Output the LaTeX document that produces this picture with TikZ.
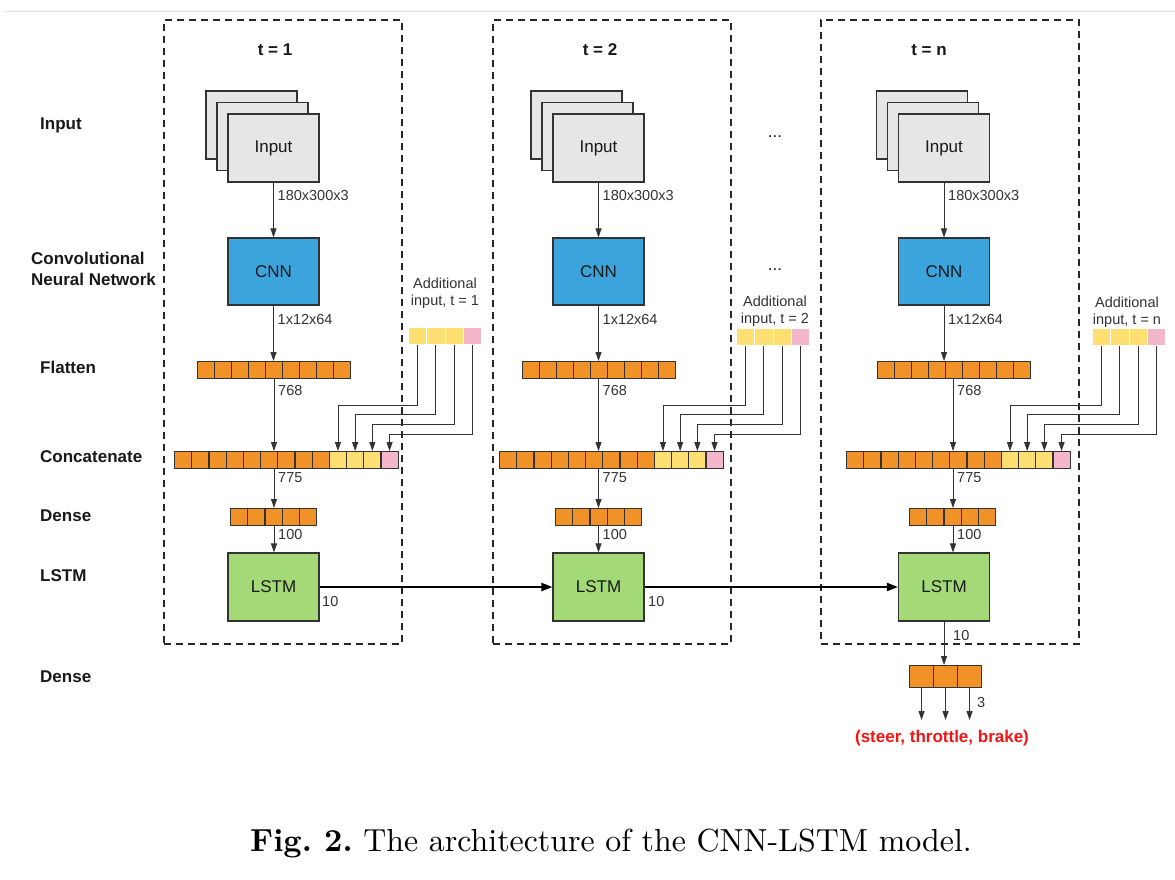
\documentclass[tikz,border=0pt]{standalone}
\usepackage{fontspec}
\setsansfont{Liberation Sans}
\usetikzlibrary{arrows.meta}
\definecolor{cnnblue}{RGB}{59,164,221}
\definecolor{lstmgreen}{RGB}{163,217,119}
\definecolor{orng}{RGB}{240,146,40}
\definecolor{ylw}{RGB}{255,222,114}
\definecolor{pnk}{RGB}{244,182,202}
\definecolor{inpgray}{RGB}{230,230,230}
\definecolor{edge}{RGB}{51,51,51}
\definecolor{redtxt}{RGB}{245,20,20}
\begin{document}
\begin{tikzpicture}[x=1pt,y=-1pt,
  lab/.style={font=\sffamily\bfseries\fontsize{17}{20.5}\selectfont, anchor=west, inner sep=0pt, text=black!90},
  small/.style={font=\sffamily\fontsize{14.5}{17.5}\selectfont, anchor=west, inner sep=0pt, text=edge},
  boxtxt/.style={font=\sffamily\fontsize{17}{20}\selectfont, text=black!90},
  inbox/.style={draw=edge, fill=inpgray, line width=1.1pt, minimum width=91pt, minimum height=68pt, inner sep=0pt, boxtxt},
  cnnbox/.style={draw=edge, fill=cnnblue, line width=1.1pt, minimum width=91pt, minimum height=67pt, inner sep=0pt, boxtxt},
  lstmbox/.style={draw=edge, fill=lstmgreen, line width=1.1pt, minimum width=91pt, minimum height=68pt, inner sep=0pt, boxtxt},
  rowbox/.style={draw=none, inner sep=0pt, anchor=north west},
  sq/.style={draw=edge, line width=1.1pt, inner sep=0pt, anchor=north west, minimum height=17pt},
  osq/.style={sq, fill=orng},
  ysq/.style={sq, fill=ylw},
  psq/.style={sq, fill=pnk},
  asq/.style={draw=white, line width=0.8pt, inner sep=0pt, anchor=north west, minimum width=18.25pt, minimum height=17pt},
  dashbox/.style={draw=black!85, line width=1.8pt, dash pattern=on 7pt off 5pt, inner sep=0pt, anchor=north west},
  arr/.style={draw=edge, line width=0.9pt, -{Triangle[length=9pt,width=6pt]}},
  bigarr/.style={draw=black, line width=1.8pt, -{Triangle[length=11pt,width=8pt]}}
]
\useasboundingbox (0,0) rectangle (1175,879);
\fill[white] (0,0) rectangle (1175,879);
\draw[black!12, line width=1pt] (5,11) -- (1175,11);

% row labels
\node[lab] (lInput) at (40,125) {Input};
\node[lab, align=left] (lCNN) at (31,269) {Convolutional\\Neural Network};
\node[lab] (lFlat) at (40,367) {Flatten};
\node[lab] (lConc) at (40,457) {Concatenate};
\node[lab] (lDense) at (40,516) {Dense};
\node[lab] (lLSTM) at (40,576) {LSTM};
\node[lab] (lDense2) at (40,677) {Dense};

% frames
\node[dashbox, minimum width=238pt, minimum height=624pt] (fr1) at (163,19) {};
\node[dashbox, minimum width=238pt, minimum height=624pt] (fr2) at (492,19) {};
\node[dashbox, minimum width=258pt, minimum height=624pt] (fr3) at (820,19) {};

\node[lab, anchor=center] (t1) at (275,50) {t = 1};
\node[lab, anchor=center] (t2) at (600,50) {t = 2};
\node[lab, anchor=center] (t3) at (929,50) {t = n};

\node[boxtxt] (dots1) at (775,137) {...};
\node[boxtxt] (dots2) at (775,270) {...};

\foreach \c/\tn/\cx/\px/\fx/\kx/\dx/\ax/\ay/\lx/\ly in
  {1/1/273.5/274/197/174/230/408/327/445/284,
   2/2/598.5/598.5/522/499/555/736/328/775/302,
   3/n/944/953/877/846/909/1092/328/1127/303}{
  \coordinate (p\c) at (\px,0);
  % input stack
  \node[inbox] (inA\c) at (\cx-22,125) {};
  \node[inbox] (inB\c) at (\cx-11,136.5) {};
  \node[inbox] (in\c) at (\cx,148) {Input};
  \node[cnnbox] (cnn\c) at (\cx,271.5) {CNN};
  \node[lstmbox] (lstm\c) at (\cx,587) {LSTM};
  % flatten
  \node[rowbox, minimum width=153pt, minimum height=17pt] (fl\c) at (\fx,361) {};
  \foreach \k in {1,...,9}
    \node[osq, minimum width=17pt] (fl\c-\k) at (\fx+17*\k-17,361) {};
  % concatenate
  \node[rowbox, minimum width=223.6pt, minimum height=17pt] (cc\c) at (\kx,451) {};
  \foreach \k in {1,...,9}
    \node[osq, minimum width=17.2pt] (cc\c-\k) at (\kx+17.2*\k-17.2,451) {};
  \foreach \k in {10,11,12}
    \node[ysq, minimum width=17.2pt] (cc\c-\k) at (\kx+17.2*\k-17.2,451) {};
  \node[psq, minimum width=17.2pt] (cc\c-13) at (\kx+17.2*12,451) {};
  % dense
  \node[rowbox, minimum width=86pt, minimum height=17pt] (de\c) at (\dx,508) {};
  \foreach \k in {1,...,5}
    \node[osq, minimum width=17.2pt] (de\c-\k) at (\dx+17.2*\k-17.2,508) {};
  % additional input
  \node[small, anchor=center, align=center] (al\c) at (\lx,\ly+9) {Additional\\input, t = \tn};
  \foreach \k in {1,2,3}
    \node[asq, fill=ylw] (ad\c-\k) at (\ax+18.25*\k-18.25,\ay) {};
  \node[asq, fill=pnk] (ad\c-4) at (\ax+18.25*3,\ay) {};
  \foreach \k/\yy in {1/405,2/414,3/424,4/434}{
    \pgfmathtruncatemacro\kk{\k+9}
    \draw[arr] (ad\c-\k.south) |- (cc\c-\kk.north |- 0,\yy) -- (cc\c-\kk.north);
  }
  % main path
  \draw[arr] (in\c.south) -- (cnn\c.north);
  \draw[arr] (cnn\c.south) -- (cnn\c.south |- fl\c.north);
  \draw[arr] (fl\c.south -| p\c) -- (cc\c.north -| p\c);
  \draw[arr] (cc\c.south -| p\c) -- (de\c.north -| p\c);
  \draw[arr] (de\c.south -| p\c) -- (lstm\c.north -| p\c);
  \node[small] (s1\c) at (\cx+4,196) {180x300x3};
  \node[small] (s2\c) at (\cx+4,320) {1x12x64};
  \node[small] (s3\c) at (\px+4,390) {768};
  \node[small] (s4\c) at (\px+4,478) {775};
  \node[small] (s5\c) at (\px+4,534) {100};
}
\node[small] (ten1) at (322,601) {10};
\node[small] (ten2) at (648,601) {10};
\draw[bigarr] (lstm1.east) -- (lstm2.west);
\draw[bigarr] (lstm2.east) -- (lstm3.west);

% output dense
\foreach \k in {1,2,3}
  \node[osq, minimum width=24pt, minimum height=22pt] (out\k) at (909+24*\k-24,665) {};
\draw[arr] (lstm3.south) -- (lstm3.south |- out2.north);
\node[small] (ten3) at (953,635) {10};
\foreach \k in {1,2,3}{
  \coordinate (oe\k) at (out\k.south |- 0,720);
  \draw[arr] (out\k.south) -- (oe\k);
}
\node[small] (three) at (977,702) {3};
\node[font=\sffamily\bfseries\fontsize{17}{20}\selectfont, text=redtxt] (res) at (942,738) {(steer, throttle, brake)};

% caption
\node[anchor=base, inner sep=0pt] (cap) at (611,851) {\scalebox{3.19}{\frenchspacing\textbf{Fig.\ 2.} The architecture of the CNN-LSTM model.}};
\end{tikzpicture}
\end{document}
